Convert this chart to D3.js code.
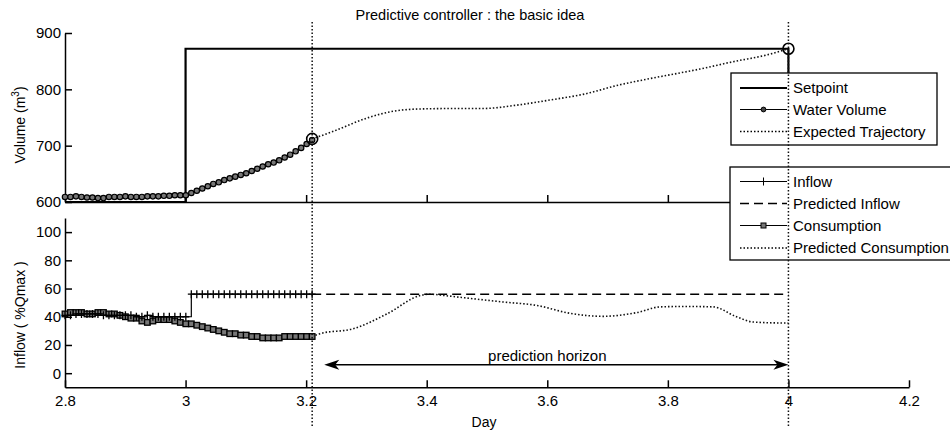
<!DOCTYPE html>
<html>
<head>
<meta charset="utf-8">
<script src="https://cdn.jsdelivr.net/npm/d3@7"></script>
<style>
body { margin: 0; background: #fff; }
text { font-family: "Liberation Sans", Arial, Helvetica, sans-serif; fill: #000; }
</style>
</head>
<body>
<div id="fig"></div>
<script>
// sampled measurements (one value every dayStep days, starting at dayStart)
var dayStart = 2.8;
var dayStep = 0.00911;
var volume = [609, 609, 610, 609, 608, 608, 607, 607, 609, 609, 609, 610, 609, 609, 609, 610,
              610, 610, 611, 611, 612, 612, 612, 616, 620, 624, 628, 632, 635, 639, 642, 645,
              648, 651, 655, 659, 663, 667, 670, 674, 679, 684, 690, 696, 703, 710];
var inflow = [41, 41, 42, 42, 42, 42, 42, 41, 41, 41, 41, 41, 41, 40, 40, 41, 40, 40, 40, 40,
              40, 40, 40, 56, 56, 56, 56, 56, 56, 56, 56, 56, 56, 56, 56, 56, 56, 56, 56, 56,
              56, 56, 56, 56, 56, 56];
var consumption = [42, 43, 43, 43, 42, 42, 43, 43, 42, 42, 41, 40, 39, 39, 37, 36, 37, 38, 38, 38,
                   37, 36, 35, 35, 34, 33, 32, 31, 30, 29, 28, 28, 27, 27, 26, 26, 25, 25, 25, 25,
                   26, 26, 26, 26, 26, 26];

var setpointDays = [2.8, 3.0, 3.0, 4.0, 4.0, 4.2];
var setpointVals = [600, 600, 872, 872, 760, 760];

var trajDays = [3.21, 3.244, 3.301, 3.339, 3.384, 3.45, 3.493, 3.55, 3.604, 3.659, 3.72, 3.77, 3.853, 3.908, 3.964, 4.0];
var trajVals = [712, 725, 749, 760, 765, 766, 766, 772, 781, 791, 808, 819, 836, 849, 861, 872];

var ringDays = [3.21, 4.0];
var ringVals = [712, 872];

var predInflowDays = [3.21, 4.0];
var predInflowVals = [56, 56];

var predConsDays = [3.21, 3.223, 3.278, 3.334, 3.389, 3.405, 3.43, 3.472, 3.526, 3.583, 3.637, 3.692,
                    3.749, 3.787, 3.831, 3.875, 3.914, 3.941, 3.99, 4.0];
var predConsVals = [26, 28, 31.5, 42, 55, 56, 55, 53, 50.5, 48, 42.5, 40.3, 43, 47, 47.3, 47, 40, 36.3, 35.6, 35.6];

var markerDays = [3.21, 4.0];
var horizonDays = [3.23, 4.0];
var horizonLevel = 6;

var xTicks = [2.8, 3, 3.2, 3.4, 3.6, 3.8, 4, 4.2];
var volTicks = [600, 700, 800, 900];
var flowTicks = [0, 20, 40, 60, 80, 100];

var legendTop = ["Setpoint", "Water Volume", "Expected Trajectory"];
var legendBottom = ["Inflow", "Predicted Inflow", "Consumption", "Predicted Consumption"];

var svg = d3.select("#fig")
    .append("svg")
    .attr("width", 950)
    .attr("height", 431);

svg.append("rect").attr("width", 950).attr("height", 431).attr("fill", "#fff");

// scales
var x = d3.scaleLinear().domain([2.8, 4.2]).range([65, 909]);
var yVol = d3.scaleLinear().domain([600, 900]).range([202, 33]);
var yFlow = d3.scaleLinear().domain([-10, 110]).range([387.3, 218]);

var FONT = "Liberation Sans, Arial, Helvetica, sans-serif";
var DOT = "1.5,2";

// axes
function styleAxis(g, size) {
    g.attr("font-size", size).attr("font-family", FONT);
    g.selectAll("path, line").attr("stroke", "#000").attr("stroke-width", 1.5);
    g.selectAll("text").attr("fill", "#000");
}

svg.append("g")
    .attr("transform", "translate(0,202)")
    .call(d3.axisBottom(x).tickValues(xTicks).tickSizeInner(-7).tickSizeOuter(0).tickFormat(""))
    .call(styleAxis, 15);
svg.append("g")
    .attr("transform", "translate(65,0)")
    .call(d3.axisLeft(yVol).tickValues(volTicks).tickSizeInner(-7).tickSizeOuter(0).tickPadding(4))
    .call(styleAxis, 15);
svg.append("g")
    .attr("transform", "translate(0,387.3)")
    .call(d3.axisBottom(x).tickValues(xTicks).tickSizeInner(-7).tickSizeOuter(0).tickPadding(8).tickFormat(d3.format("")))
    .call(styleAxis, 15);
svg.append("g")
    .attr("transform", "translate(65,0)")
    .call(d3.axisLeft(yFlow).tickValues(flowTicks).tickSizeInner(-7).tickSizeOuter(0).tickPadding(4))
    .call(styleAxis, 15);

// titles
svg.append("text").attr("x", 470).attr("y", 20).attr("text-anchor", "middle")
    .style("font-size", "14.5px").text("Predictive controller : the basic idea");
svg.append("text").attr("x", 484).attr("y", 427).attr("text-anchor", "middle")
    .style("font-size", "14px").text("Day");
var volLabel = svg.append("text")
    .attr("transform", "translate(25,125) rotate(-90)")
    .attr("text-anchor", "middle")
    .style("font-size", "14px");
volLabel.append("tspan").text("Volume (m");
volLabel.append("tspan").attr("dy", -6).style("font-size", "10px").text("3");
volLabel.append("tspan").attr("dy", 6).text(")");
svg.append("text")
    .attr("transform", "translate(25,315) rotate(-90)")
    .attr("text-anchor", "middle")
    .style("font-size", "14px")
    .text("Inflow ( %Qmax )");

// series
var sampled = function(vals) {
    return vals.map(function(v, i) { return {day: dayStart + i * dayStep, v: v}; });
};
var pairs = function(days, vals) {
    return days.map(function(d, i) { return {day: d, v: vals[i]}; });
};
var lineVol = d3.line().x(function(d) { return x(d.day); }).y(function(d) { return yVol(d.v); });
var smoothVol = d3.line().curve(d3.curveMonotoneX).x(function(d) { return x(d.day); }).y(function(d) { return yVol(d.v); });
var lineFlow = d3.line().x(function(d) { return x(d.day); }).y(function(d) { return yFlow(d.v); });
var smoothFlow = d3.line().curve(d3.curveMonotoneX).x(function(d) { return x(d.day); }).y(function(d) { return yFlow(d.v); });
var stepFlow = d3.line().curve(d3.curveStepAfter).x(function(d) { return x(d.day); }).y(function(d) { return yFlow(d.v); });

var volData = sampled(volume);
var inflowData = sampled(inflow);
var consData = sampled(consumption);

svg.append("path").attr("d", lineVol(pairs(setpointDays, setpointVals)))
    .attr("fill", "none").attr("stroke", "#000").attr("stroke-width", 2.2);

svg.append("path").attr("d", smoothVol(pairs(trajDays, trajVals)))
    .attr("fill", "none").attr("stroke", "#111").attr("stroke-width", 1.6).attr("stroke-dasharray", DOT);

svg.append("path").attr("d", lineVol(volData))
    .attr("fill", "none").attr("stroke", "#000").attr("stroke-width", 1.2);
svg.selectAll(".vol")
    .data(volData)
    .enter().append("circle")
    .attr("class", "vol")
    .attr("cx", function(d) { return x(d.day); })
    .attr("cy", function(d) { return yVol(d.v); })
    .attr("r", 2.7)
    .attr("fill", "#777").attr("stroke", "#000").attr("stroke-width", 1.2);

svg.selectAll(".ring")
    .data(pairs(ringDays, ringVals))
    .enter().append("circle")
    .attr("class", "ring")
    .attr("cx", function(d) { return x(d.day); })
    .attr("cy", function(d) { return yVol(d.v); })
    .attr("r", 5.5)
    .attr("fill", "none").attr("stroke", "#000").attr("stroke-width", 1.6);

// bottom panel
svg.append("path").attr("d", smoothFlow(pairs(predConsDays, predConsVals)))
    .attr("fill", "none").attr("stroke", "#111").attr("stroke-width", 1.6).attr("stroke-dasharray", DOT);
svg.append("path").attr("d", lineFlow(pairs(predInflowDays, predInflowVals)))
    .attr("fill", "none").attr("stroke", "#000").attr("stroke-width", 1.6).attr("stroke-dasharray", "9,5");

svg.append("path").attr("d", lineFlow(consData))
    .attr("fill", "none").attr("stroke", "#000").attr("stroke-width", 1.2);
svg.selectAll(".cons")
    .data(consData)
    .enter().append("rect")
    .attr("class", "cons")
    .attr("x", function(d) { return x(d.day) - 2.8; })
    .attr("y", function(d) { return yFlow(d.v) - 2.8; })
    .attr("width", 5.6).attr("height", 5.6)
    .attr("fill", "#777").attr("stroke", "#000").attr("stroke-width", 1.3);

svg.append("path").attr("d", stepFlow(inflowData))
    .attr("fill", "none").attr("stroke", "#000").attr("stroke-width", 1.2);
svg.selectAll(".inflow")
    .data(inflowData)
    .enter().append("path")
    .attr("class", "inflow")
    .attr("transform", function(d) { return "translate(" + x(d.day) + "," + yFlow(d.v) + ")"; })
    .attr("d", "M-3.5,0H3.5M0,-4V4")
    .attr("stroke", "#000").attr("stroke-width", 1.3);

// prediction horizon arrow
var hx0 = x(horizonDays[0]), hx1 = x(horizonDays[1]), hy = yFlow(horizonLevel);
svg.append("line").attr("x1", hx0 + 8).attr("x2", hx1 - 8).attr("y1", hy).attr("y2", hy)
    .attr("stroke", "#000").attr("stroke-width", 1.5);
svg.append("path").attr("transform", "translate(" + hx0 + "," + hy + ")")
    .attr("d", "M0,0L15,-5L11,0L15,5Z").attr("fill", "#000");
svg.append("path").attr("transform", "translate(" + hx1 + "," + hy + ")")
    .attr("d", "M0,0L-15,-5L-11,0L-15,5Z").attr("fill", "#000");
svg.append("text").attr("x", x(3.6)).attr("y", 361).attr("text-anchor", "middle")
    .style("font-size", "15px").text("prediction horizon");

// legends
function drawLegend(bx, by, bw, bh, names, rowY, drawSample) {
    var g = svg.append("g");
    g.append("rect").attr("x", bx).attr("y", by).attr("width", bw).attr("height", bh)
        .attr("fill", "#fff").attr("stroke", "#000").attr("stroke-width", 1.3);
    names.forEach(function(name, i) {
        var ly = rowY[i];
        drawSample(g, i, ly);
        g.append("text").attr("x", 793).attr("y", ly).attr("dy", "0.35em")
            .style("font-size", "15px").text(name);
    });
}

drawLegend(731, 73, 206, 72, legendTop, [88, 109.5, 131.5], function(g, i, ly) {
    var l = g.append("line").attr("x1", 740).attr("x2", 787).attr("y1", ly).attr("y2", ly).attr("stroke", "#000");
    if (i === 0) l.attr("stroke-width", 2.2);
    if (i === 1) {
        l.attr("stroke-width", 1.2);
        g.append("circle").attr("cx", 763.5).attr("cy", ly).attr("r", 2.4).attr("fill", "#444").attr("stroke", "#000");
    }
    if (i === 2) l.attr("stroke-width", 1.6).attr("stroke-dasharray", DOT);
});

drawLegend(730, 167, 240, 93, legendBottom, [181.5, 203.5, 225.5, 248], function(g, i, ly) {
    var l = g.append("line").attr("x1", 740).attr("x2", 787).attr("y1", ly).attr("y2", ly).attr("stroke", "#000");
    if (i === 0) {
        l.attr("stroke-width", 1.2);
        g.append("path").attr("transform", "translate(763.5," + ly + ")").attr("d", "M0,-4V4").attr("stroke", "#000");
    }
    if (i === 1) l.attr("stroke-width", 1.6).attr("stroke-dasharray", "9,5");
    if (i === 2) {
        l.attr("stroke-width", 1.2);
        g.append("rect").attr("x", 761).attr("y", ly - 2.5).attr("width", 5).attr("height", 5)
            .attr("fill", "#777").attr("stroke", "#000");
    }
    if (i === 3) l.attr("stroke-width", 1.6).attr("stroke-dasharray", DOT);
});

// dotted markers at the start and end of the prediction window
svg.selectAll(".vmark")
    .data(markerDays)
    .enter().append("line")
    .attr("class", "vmark")
    .attr("x1", function(d) { return x(d); })
    .attr("x2", function(d) { return x(d); })
    .attr("y1", 22).attr("y2", 428)
    .attr("stroke", "#111").attr("stroke-width", 1.5).attr("stroke-dasharray", DOT);
</script>
</body>
</html>
